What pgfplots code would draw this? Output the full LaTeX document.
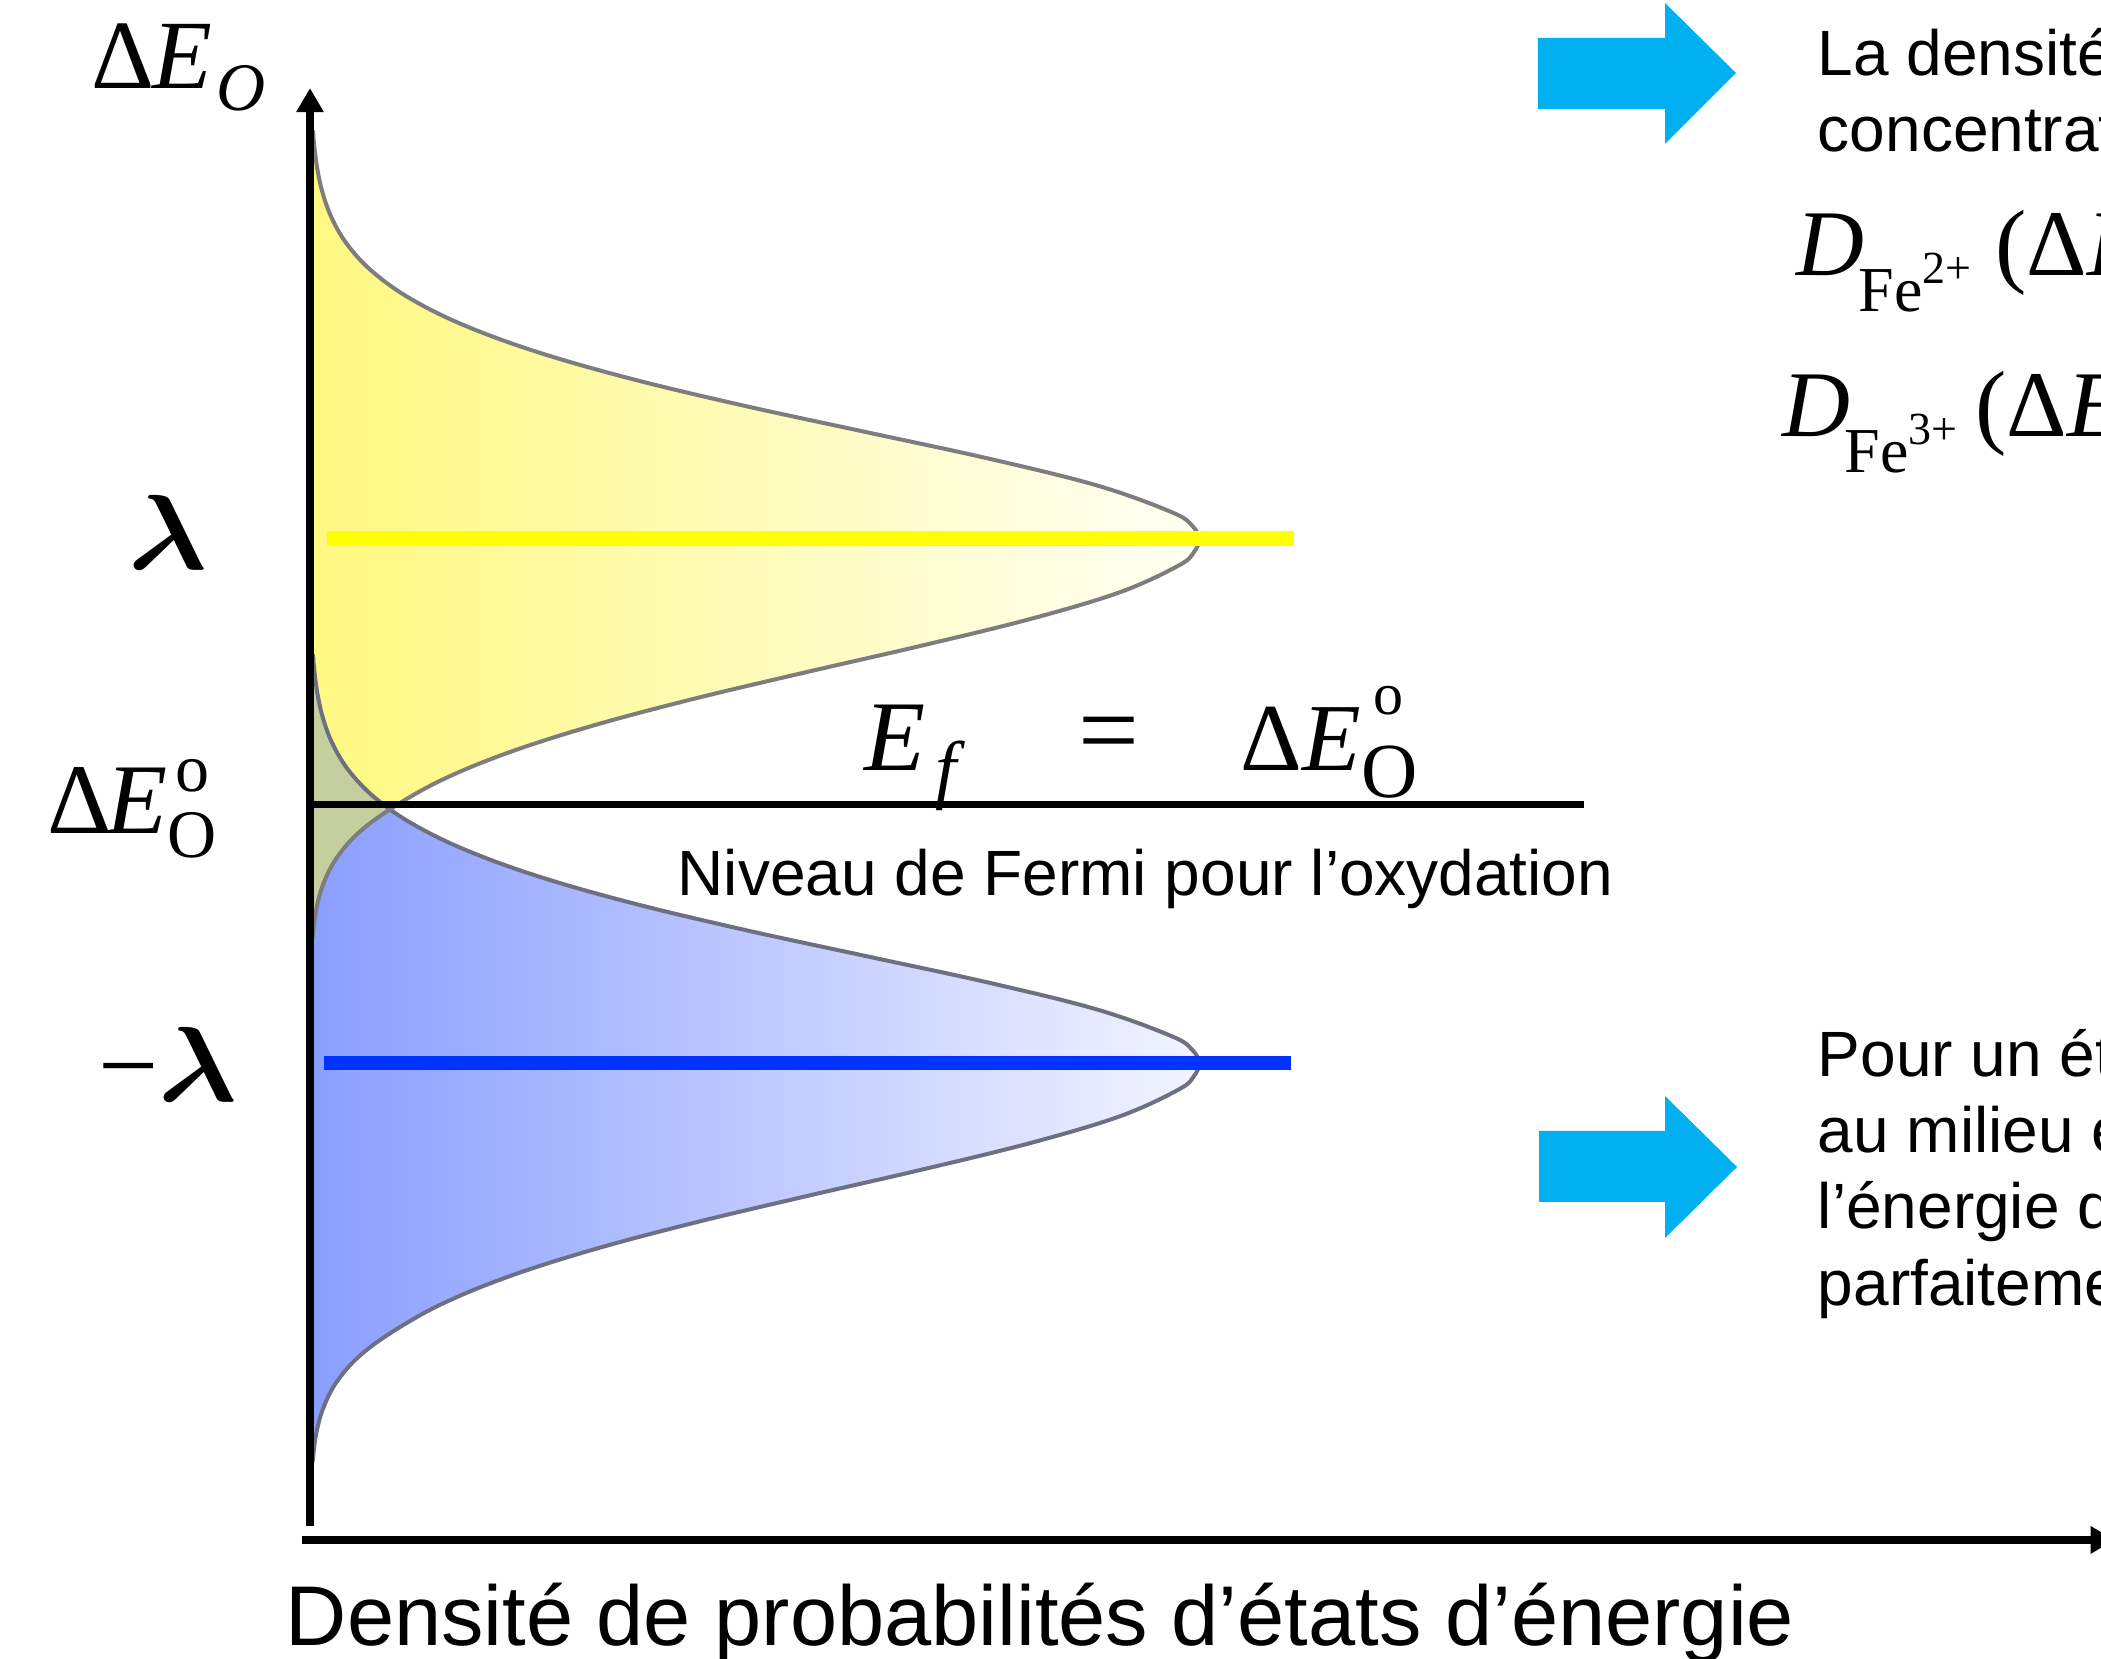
\RequirePackage{fix-cm}
\documentclass[border=0pt]{standalone}
\usepackage[no-math]{fontspec}
\setmainfont{Liberation Sans}
\newfontfamily\tnr{Liberation Serif}
\usepackage{amsmath}
\usepackage{graphicx}
\usepackage{pgfplots}
\usepackage{pgfplotstable}
\pgfplotsset{compat=1.18}
\usetikzlibrary{arrows.meta}
\definecolor{yelL}{RGB}{255,248,128}
\definecolor{yelR}{RGB}{255,255,244}
\definecolor{bluL}{RGB}{138,158,255}
\definecolor{bluR}{RGB}{242,244,255}
\definecolor{grn}{RGB}{197,206,158}
\definecolor{arrowc}{RGB}{0,176,240}
\definecolor{ylin}{RGB}{255,255,0}
\definecolor{blin}{RGB}{0,51,255}
\definecolor{outl}{RGB}{125,125,125}
\definecolor{outb}{RGB}{108,112,128}
\newcommand{\lam}{{\boldmath\scalebox{1.1}[1]{$\lambda$}}}

% density of states of Fe2+ (yellow), centred on +lambda
\pgfplotstableread{
x y
0.0000 2.53
0.0035 2.53
0.0041 2.50
0.0078 2.40
0.0143 2.30
0.0254 2.20
0.0435 2.10
0.0720 2.00
0.1147 1.90
0.1757 1.80
0.2583 1.70
0.3638 1.60
0.4895 1.50
0.6281 1.40
0.7662 1.30
0.8865 1.20
0.9698 1.10
0.9923 1.05
1.0000 1.00
0.9942 0.95
0.9770 0.90
0.9112 0.80
0.8112 0.70
0.6893 0.60
0.5591 0.50
0.4329 0.40
0.3200 0.30
0.2257 0.20
0.1520 0.10
0.0977 0.00
0.0561 -0.10
0.0298 -0.20
0.0146 -0.30
0.0066 -0.40
0.0027 -0.50
0.0000 -0.50
}\yellowdos

% density of states of Fe3+ (blue), centred on -lambda
\pgfplotstableread{
x y
0.0000 0.56
0.0035 0.56
0.0041 0.53
0.0078 0.43
0.0143 0.33
0.0254 0.23
0.0435 0.13
0.0720 0.03
0.1147 -0.07
0.1757 -0.17
0.2583 -0.27
0.3638 -0.37
0.4895 -0.47
0.6281 -0.57
0.7662 -0.67
0.8865 -0.77
0.9698 -0.87
0.9923 -0.92
1.0000 -0.97
0.9942 -1.02
0.9770 -1.07
0.9112 -1.17
0.8112 -1.27
0.6893 -1.37
0.5591 -1.47
0.4329 -1.57
0.3200 -1.67
0.2257 -1.77
0.1520 -1.87
0.0977 -1.97
0.0561 -2.07
0.0298 -2.17
0.0146 -2.27
0.0066 -2.37
0.0027 -2.47
0.0000 -2.47
}\bluedos

% overlap region
\pgfplotstableread{
x y
0.0000 0.56
0.0035 0.56
0.0041 0.53
0.0078 0.43
0.0143 0.33
0.0254 0.23
0.0435 0.13
0.0720 0.03
0.0910 -0.015
0.0561 -0.10
0.0298 -0.20
0.0146 -0.30
0.0066 -0.40
0.0027 -0.50
0.0000 -0.50
}\overlapdos

\begin{document}
\begin{tikzpicture}
\begin{axis}[scale only axis, width=525.25pt, height=414.75pt,
  xmin=-0.3487, xmax=2.0146, ymin=-3.2105, ymax=3.0263,
  axis lines=none, ticks=none, clip=false]
\coordinate (SW) at (rel axis cs:0,0);
\coordinate (NE) at (rel axis cs:1,1);

% fills
\addplot[draw=none, left color=bluL, right color=bluR, smooth, tension=0.6] table {\bluedos} -- cycle;
\addplot[draw=none, left color=yelL, right color=yelR, smooth, tension=0.6] table {\yellowdos} -- cycle;
\addplot[draw=none, fill=grn, smooth, tension=0.6] table {\overlapdos} -- cycle;
% outlines
\addplot[draw=outb, line width=1pt, smooth, tension=0.6] table {\bluedos};
\addplot[draw=outl, line width=1pt, smooth, tension=0.6] table {\yellowdos};

% level lines
\addplot[ylin, line width=3.75pt] coordinates {(0.019,1.0) (1.107,1.0)};
\addplot[blin, line width=3.5pt] coordinates {(0.016,-0.97) (1.103,-0.97)};
\addplot[black, line width=1.75pt] coordinates {(0,0) (1.433,0)};

% axes
\draw[line width=2pt, -{Triangle[length=6pt,width=6.5pt]}] (axis cs:0,-2.71) -- (axis cs:0,2.695);
\draw[line width=2pt, -{Triangle[length=6pt,width=6.5pt]}] (axis cs:-0.009,-2.763) -- (axis cs:2.03,-2.763);

% cyan arrows
\fill[arrowc] (axis cs:1.3813,2.8835) -- (axis cs:1.5242,2.8835) -- (axis cs:1.5242,3.0150)
  -- (axis cs:1.6040,2.7519) -- (axis cs:1.5242,2.4850) -- (axis cs:1.5242,2.6165)
  -- (axis cs:1.3813,2.6165) -- cycle;
\fill[arrowc] (axis cs:1.3825,-1.2256) -- (axis cs:1.5242,-1.2256) -- (axis cs:1.5242,-1.0940)
  -- (axis cs:1.6052,-1.3609) -- (axis cs:1.5242,-1.6278) -- (axis cs:1.5242,-1.4925)
  -- (axis cs:1.3825,-1.4925) -- cycle;

% left labels
\node[anchor=base west, inner sep=0pt] at (axis cs:-0.2463,2.692)
  {\tnr\fontsize{24.5}{28}\selectfont Δ\kern-0.5pt\textit{E}\kern1pt\raisebox{-5.5pt}{\fontsize{17}{18}\selectfont\textit{O}}};
\node[anchor=base west, inner sep=0pt] at (axis cs:-0.2047,0.8835)
  {\fontsize{26.7}{30}\selectfont\lam};
\node[anchor=base west, inner sep=0pt] at (axis cs:-0.2390,-1.1165)
  {\fontsize{26.7}{30}\selectfont{\tnr −}\lam};
\node[anchor=base west, inner sep=0pt] at (axis cs:-0.2959,-0.109)
  {\tnr\fontsize{25}{28}\selectfont Δ\kern-1.5pt\textit{E}\rlap{\kern2pt\raisebox{10.5pt}{\fontsize{17}{18}\selectfont o}}\raisebox{-6pt}{\fontsize{17}{18}\selectfont O}};

% Fermi level labels
\node[anchor=base west, inner sep=0pt] at (axis cs:0.6232,0.128)
  {\tnr\fontsize{25}{28}\selectfont \textit{E}\kern2.5pt\raisebox{-6pt}{\fontsize{19}{20}\selectfont\textit{f}}};
\node[anchor=center, inner sep=0pt] at (axis cs:0.8988,0.2368)
  {\tnr\fontsize{27}{28}\selectfont =};
\node[anchor=base west, inner sep=0pt] at (axis cs:1.0461,0.128)
  {\tnr\fontsize{24}{28}\selectfont Δ\textit{E}\rlap{\kern3pt\raisebox{14pt}{\fontsize{15}{16}\selectfont o}}\raisebox{-6.75pt}{\fontsize{19.5}{20}\selectfont O}};
\node[anchor=base west, inner sep=0pt] at (axis cs:0.4128,-0.342)
  {\fontsize{16}{19}\selectfont Niveau de Fermi pour l’oxydation};

% x label
\node[anchor=base west, inner sep=0pt] at (axis cs:-0.0281,-3.158)
  {\fontsize{21.2}{25}\selectfont Densité de probabilités d’états d’énergie};

% right text (cut by the page edge, as in the reference)
\node[anchor=base west, inner sep=0pt] at (axis cs:1.6952,2.744)
  {\fontsize{16}{19}\selectfont La densité d’états est proportionnelle à la};
\node[anchor=base west, inner sep=0pt] at (axis cs:1.6952,2.455)
  {\fontsize{16}{19}\selectfont concentration des espèces :};
\node[anchor=base west, inner sep=0pt] at (axis cs:1.6715,1.992)
  {\tnr\fontsize{23.5}{27}\selectfont \textit{D}\kern-1.5pt\raisebox{-9pt}{\fontsize{16}{18}\selectfont Fe\raisebox{7pt}{\fontsize{11.5}{13}\selectfont 2+}}\kern6pt(Δ\textit{E}) = [Fe\textsuperscript{2+}]};
\node[anchor=base west, inner sep=0pt] at (axis cs:1.6558,1.387)
  {\tnr\fontsize{23.5}{27}\selectfont \textit{D}\kern-1.5pt\raisebox{-9pt}{\fontsize{16}{18}\selectfont Fe\raisebox{7pt}{\fontsize{11.5}{13}\selectfont 3+}}\kern4.5pt(Δ\textit{E}) = [Fe\textsuperscript{3+}]};
\node[anchor=base west, inner sep=0pt] at (axis cs:1.6952,-1.0226)
  {\fontsize{16}{19}\selectfont Pour un état d’équilibre, le niveau de Fermi se situe};
\node[anchor=base west, inner sep=0pt] at (axis cs:1.6952,-1.308)
  {\fontsize{16}{19}\selectfont au milieu entre les deux distributions :};
\node[anchor=base west, inner sep=0pt] at (axis cs:1.6952,-1.594)
  {\fontsize{16}{19}\selectfont l’énergie des deux états est};
\node[anchor=base west, inner sep=0pt] at (axis cs:1.6952,-1.883)
  {\fontsize{16}{19}\selectfont parfaitement équilibrée.};
\end{axis}
\pgfresetboundingbox
\path[use as bounding box] (SW) rectangle (NE);
\end{tikzpicture}
\end{document}
